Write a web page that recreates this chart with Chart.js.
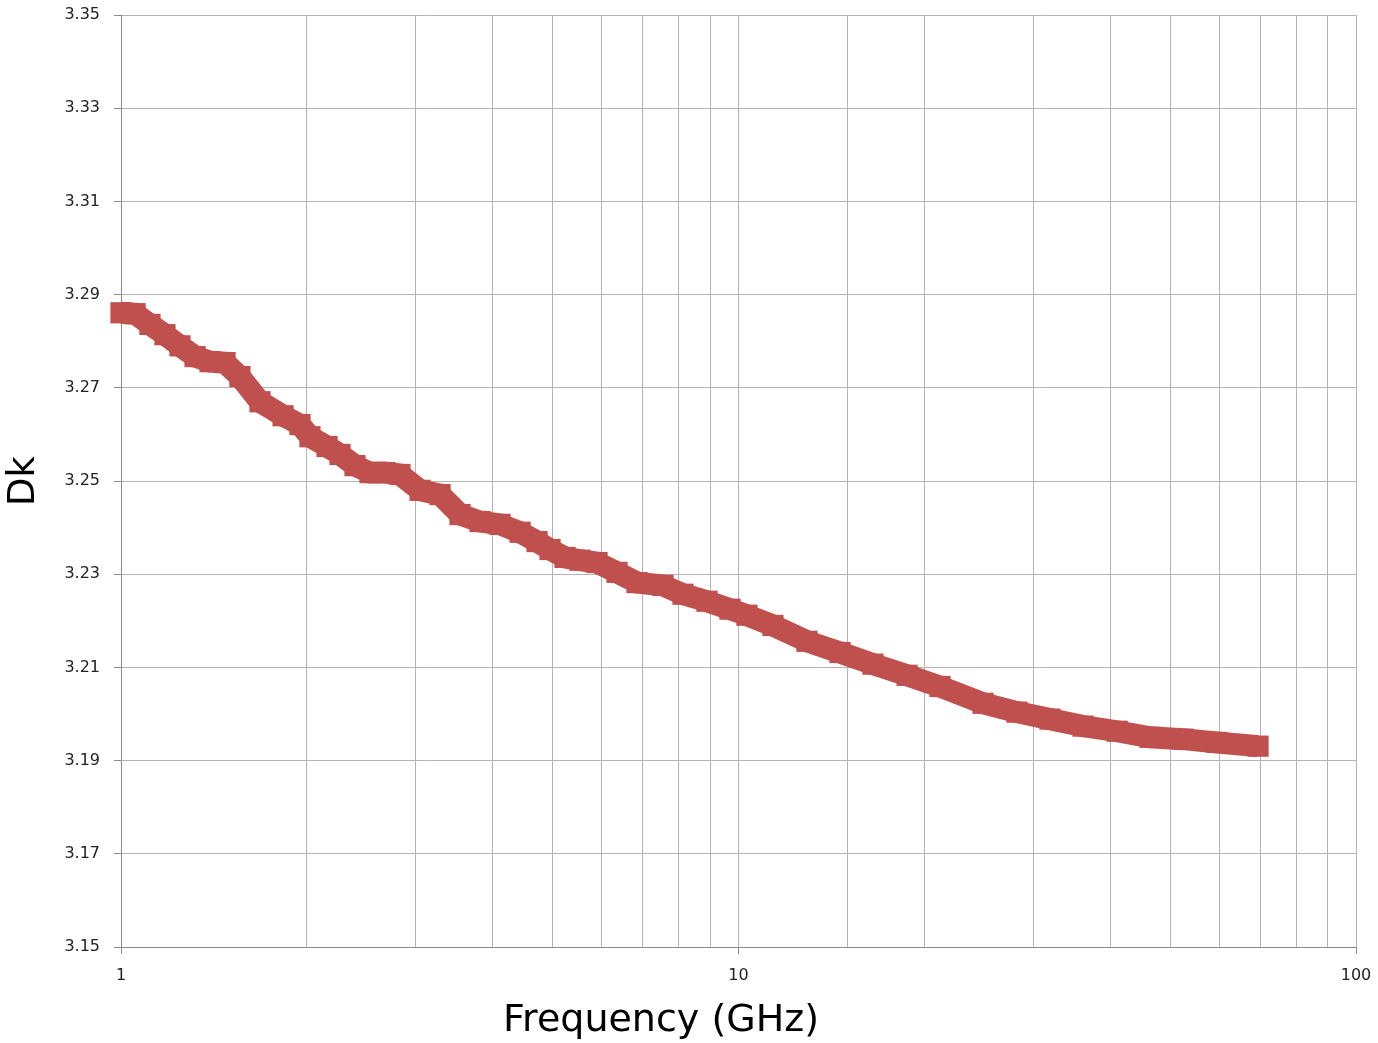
<!DOCTYPE html>
<html>
<head>
<meta charset="utf-8">
<script src="https://cdn.jsdelivr.net/npm/chart.js@4/dist/chart.umd.min.js"></script>
<style>
  html, body { margin: 0; padding: 0; background: #ffffff; }
  #wrap { width: 1378px; height: 1043px; position: relative; }
</style>
</head>
<body>
<div id="wrap"><canvas id="dkChart"></canvas></div>
<script>
// --- Data (frequency in GHz, Dk) ---
const freqGHz = [
  1.000, 1.054, 1.114, 1.178, 1.246, 1.318, 1.394, 1.474, 1.558, 1.679,
  1.830, 1.949, 2.023, 2.156, 2.263, 2.393, 2.531, 2.676, 2.830, 3.050,
  3.286, 3.540, 3.815, 4.110, 4.429, 4.718, 4.952, 5.237, 5.538, 5.900,
  6.357, 6.849, 7.546, 8.131, 8.892, 9.688, 10.32, 11.37, 12.91, 14.60,
  16.51, 18.75, 21.20, 24.89, 28.25, 31.95, 36.14, 41.03, 46.39, 52.47,
  59.55, 69.4
];
const dkValues = [
  3.2861, 3.2859, 3.2836, 3.2814, 3.2790, 3.2767, 3.2756, 3.2754, 3.2724, 3.2670,
  3.2640, 3.2621, 3.2595, 3.2574, 3.2557, 3.2533, 3.2518, 3.2518, 3.2514, 3.2480,
  3.2471, 3.2428, 3.2413, 3.2407, 3.2390, 3.2370, 3.2353, 3.2336, 3.2330, 3.2325,
  3.2304, 3.2282, 3.2276, 3.2257, 3.2242, 3.2225, 3.2212, 3.2190, 3.2156, 3.2132,
  3.2107, 3.2083, 3.2059, 3.2023, 3.2004, 3.1989, 3.1974, 3.1963, 3.1950, 3.1946,
  3.1939, 3.1931
];
const xTickLabels = [1, 10, 100];
const xTitle = 'Frequency (GHz)';

const points = freqGHz.map((f, i) => ({ x: f, y: dkValues[i] }));

const gridGray = '#b4b4b4';
const axisGray = '#8a8a8a';

// x title sits left of the plot centre in the original, so draw it here
const xTitlePlugin = {
  id: 'xTitle',
  afterDraw(chart) {
    const c = chart.ctx;
    c.save();
    c.font = '38px "DejaVu Sans"';
    c.fillStyle = '#000';
    c.textAlign = 'center';
    c.textBaseline = 'middle';
    c.fillText(xTitle, 661, 1021);
    c.restore();
  }
};

const ctx = document.getElementById('dkChart').getContext('2d');
new Chart(ctx, {
  type: 'scatter',
  data: {
    datasets: [{
      label: 'Dk',
      data: points,
      showLine: true,
      borderColor: '#C0504D',
      backgroundColor: '#C0504D',
      borderWidth: 22,
      borderJoinStyle: 'miter',
      pointStyle: 'rect',
      pointRadius: 15,
      pointBorderWidth: 0,
      pointHoverRadius: 15,
      clip: false
    }]
  },
  options: {
    responsive: true,
    maintainAspectRatio: false,
    animation: false,
    layout: { padding: { left: 0, right: 22, top: 14, bottom: 0 } },
    plugins: { legend: { display: false }, tooltip: { enabled: false } },
    scales: {
      x: {
        type: 'logarithmic',
        min: 1,
        max: 100,
        border: { color: axisGray, width: 1 },
        grid: {
          color: gridGray,
          tickLength: 7,
          tickColor: c => xTickLabels.includes(c.tick && c.tick.value) ? axisGray : 'rgba(0,0,0,0)'
        },
        ticks: {
          autoSkip: false,
          maxRotation: 0,
          color: '#222',
          padding: 12,
          font: { family: 'DejaVu Sans', size: 16 },
          callback: v => xTickLabels.includes(v) ? String(v) : ''
        },
        title: { display: false },
        afterFit: s => { s.height = 96; s.paddingLeft = 0; s.paddingRight = 0; }
      },
      y: {
        min: 3.15,
        max: 3.35,
        border: { color: axisGray, width: 1 },
        grid: { color: gridGray, tickLength: 7, tickColor: axisGray },
        ticks: {
          stepSize: 0.02,
          color: '#222',
          padding: 14,
          font: { family: 'DejaVu Sans', size: 16 },
          callback: v => Number(v).toFixed(2)
        },
        title: {
          display: true,
          text: 'Dk',
          color: '#000',
          font: { family: 'DejaVu Sans', size: 37 },
          padding: { top: 2, bottom: 0 }
        },
        afterFit: s => { s.width = 121; s.paddingTop = 0; s.paddingBottom = 0; }
      }
    }
  },
  plugins: [xTitlePlugin]
});
</script>
</body>
</html>
